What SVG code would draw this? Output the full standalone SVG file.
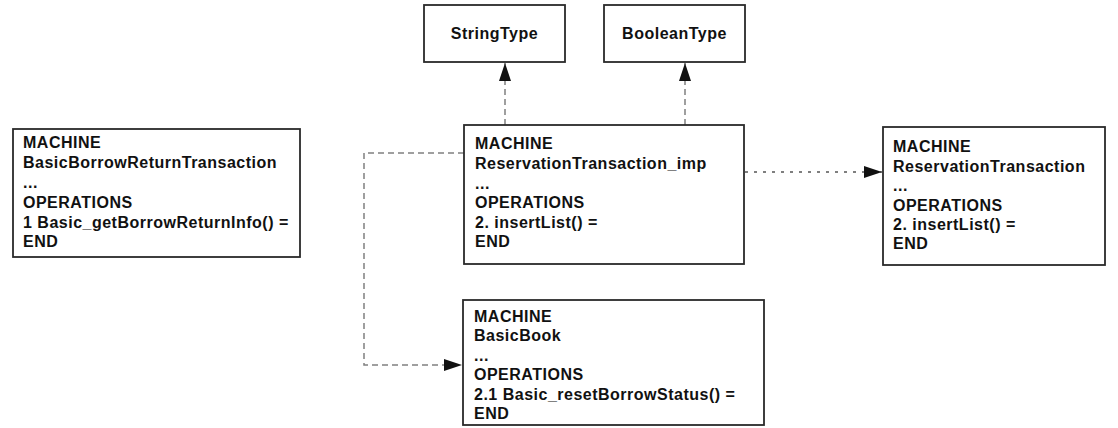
<svg xmlns="http://www.w3.org/2000/svg" width="1118" height="428" viewBox="0 0 1118 428">
  <style>
    .box { fill: #ffffff; stroke: #2a2a2a; stroke-width: 1.8; }
    .t { font-family: "Liberation Sans", Arial, sans-serif; font-weight: bold; font-size: 16px; letter-spacing: 0.5px; fill: #111111; }
    .tc { text-anchor: middle; }
    .dash { fill: none; stroke: #808080; stroke-width: 1.5; stroke-dasharray: 6 4; }
    .dot { fill: none; stroke: #555555; stroke-width: 1.5; stroke-dasharray: 3 6; }
  </style>
  <defs>
    <marker id="arr" markerUnits="userSpaceOnUse" markerWidth="20" markerHeight="14" refX="18" refY="6" orient="auto">
      <path d="M0,0 L18,6 L0,12 z" fill="#111111"/>
    </marker>
  </defs>
  <rect width="1118" height="428" fill="#ffffff"/>

  <g id="connectors">
    <line class="dash" x1="505" y1="125" x2="505" y2="63" marker-end="url(#arr)"/>
    <line class="dash" x1="685" y1="125" x2="685" y2="63" marker-end="url(#arr)"/>
    <line class="dot" x1="745" y1="172" x2="882" y2="172" marker-end="url(#arr)"/>
    <path class="dash" d="M464,153 H364 V365 H462" marker-end="url(#arr)"/>
  </g>

  <g id="stringtype">
    <rect class="box" x="424" y="5" width="141" height="57"/>
    <text class="t tc" x="494.5" y="39">StringType</text>
  </g>

  <g id="booleantype">
    <rect class="box" x="604" y="5" width="141" height="57"/>
    <text class="t tc" x="674.5" y="39">BooleanType</text>
  </g>

  <g id="basicborrowreturntransaction">
    <rect class="box" x="13" y="129" width="287" height="128"/>
    <text class="t" x="23" y="148">MACHINE</text>
    <text class="t" x="23" y="168">BasicBorrowReturnTransaction</text>
    <text class="t" x="23" y="188">...</text>
    <text class="t" x="23" y="208">OPERATIONS</text>
    <text class="t" x="23" y="228">1 Basic_getBorrowReturnInfo() =</text>
    <text class="t" x="23" y="247">END</text>
  </g>

  <g id="reservationtransaction_imp">
    <rect class="box" x="464" y="125" width="280" height="139"/>
    <text class="t" x="475" y="149">MACHINE</text>
    <text class="t" x="475" y="169">ReservationTransaction_imp</text>
    <text class="t" x="475" y="189">...</text>
    <text class="t" x="475" y="208">OPERATIONS</text>
    <text class="t" x="475" y="228">2. insertList() =</text>
    <text class="t" x="475" y="247">END</text>
  </g>

  <g id="reservationtransaction">
    <rect class="box" x="883" y="127" width="222" height="138"/>
    <text class="t" x="893" y="152">MACHINE</text>
    <text class="t" x="893" y="172">ReservationTransaction</text>
    <text class="t" x="893" y="191">...</text>
    <text class="t" x="893" y="211">OPERATIONS</text>
    <text class="t" x="893" y="230">2. insertList() =</text>
    <text class="t" x="893" y="249">END</text>
  </g>

  <g id="basicbook">
    <rect class="box" x="463" y="300" width="301" height="125"/>
    <text class="t" x="474" y="322">MACHINE</text>
    <text class="t" x="474" y="341">BasicBook</text>
    <text class="t" x="474" y="361">...</text>
    <text class="t" x="474" y="380">OPERATIONS</text>
    <text class="t" x="474" y="400">2.1 Basic_resetBorrowStatus() =</text>
    <text class="t" x="474" y="419">END</text>
  </g>
</svg>
